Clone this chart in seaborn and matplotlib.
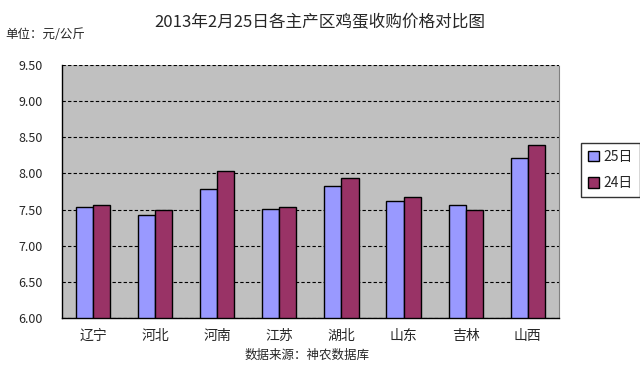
import pandas as pd
import matplotlib.pyplot as plt
import seaborn as sns

# Egg purchase prices by region, 2013-02-25 vs 2013-02-24
regions = ["辽宁", "河北", "河南", "江苏", "湖北", "山东", "吉林", "山西"]
price_25 = [7.53, 7.43, 7.78, 7.51, 7.83, 7.62, 7.57, 8.22]
price_24 = [7.56, 7.49, 8.03, 7.53, 7.94, 7.68, 7.50, 8.40]
series_names = ["25日", "24日"]
y_ticks = [6.0, 6.5, 7.0, 7.5, 8.0, 8.5, 9.0, 9.5]

df = pd.DataFrame({
    "region": regions * 2,
    "price": price_25 + price_24,
    "day": [series_names[0]] * len(regions) + [series_names[1]] * len(regions),
})

sns.set_style("white")
plt.rcParams["font.family"] = ["Noto Sans CJK SC", "DejaVu Sans"]

fig = plt.figure(figsize=(6.4, 3.68), dpi=100)
ax = fig.add_axes([0.097, 0.136, 0.776, 0.687])

sns.barplot(data=df, x="region", y="price", hue="day",
            palette=["#9999FF", "#993366"], saturation=1, width=0.55, gap=0,
            edgecolor="black", linewidth=1.0, ax=ax, legend=True)

ax.set_facecolor("#C0C0C0")
ax.set_ylim(6.0, 9.5)
ax.set_xlim(-0.5, len(regions) - 0.5)
ax.set_yticks(y_ticks)
ax.set_yticklabels([f"{v:.2f}" for v in y_ticks], fontsize=9)
ax.yaxis.grid(True, linestyle=(0, (3, 2)), color="black", linewidth=0.8)
ax.set_axisbelow(True)
ax.set_xlabel("")
ax.set_ylabel("")
ax.tick_params(axis="x", length=0, labelsize=10, pad=8)
ax.tick_params(axis="y", length=0, pad=14)
ax.set_xticks([i + 0.5 for i in range(len(regions) - 1)], minor=True)
ax.tick_params(axis="x", which="minor", length=4, direction="in", color="black")

for side in ["left", "bottom"]:
    ax.spines[side].set_color("black")
    ax.spines[side].set_linewidth(1.0)
ax.spines["top"].set_visible(False)
ax.spines["right"].set_color("#808080")
ax.spines["right"].set_linestyle((0, (1, 1)))

leg = ax.legend(loc="center left", bbox_to_anchor=(0.897, 0.538),
                bbox_transform=fig.transFigure, frameon=True, fancybox=False,
                edgecolor="black", fontsize=10, handlelength=0.8, handleheight=0.8,
                handletextpad=0.3, borderpad=0.5, labelspacing=0.9)
leg.get_frame().set_linewidth(1.0)
for h in leg.legend_handles:
    h.set_edgecolor("black")

fig.text(0.5, 0.94, "2013年2月25日各主产区鸡蛋收购价格对比图", ha="center",
         va="center", fontsize=12)
fig.text(0.008, 0.905, "单位：元/公斤", ha="left", va="center", fontsize=9)
fig.text(0.48, 0.035, "数据来源：神农数据库", ha="center", va="center", fontsize=9)

fig.savefig("out.png", dpi=100)
